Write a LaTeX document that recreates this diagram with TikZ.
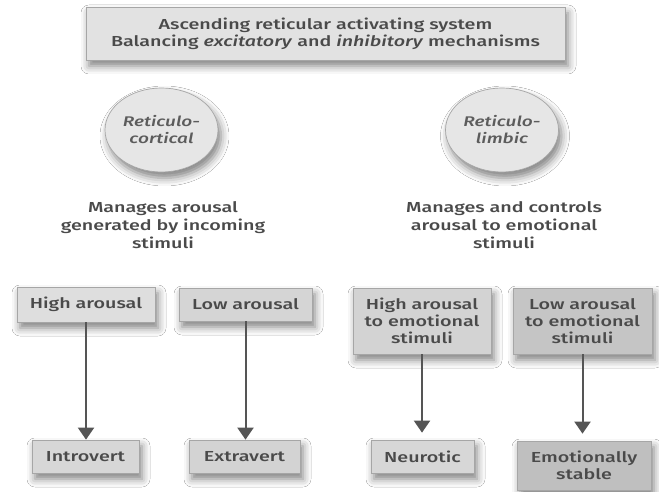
\documentclass[tikz,border=0pt]{standalone}
\usepackage{fontspec}
\newfontfamily\figfont{Fira Sans}[UprightFont={* Medium}, ItalicFont={* Medium Italic}, FakeStretch=1.36]
\usetikzlibrary{arrows.meta,shadows.blur,shapes.geometric}

\definecolor{txt}{HTML}{4A4A4A}
\definecolor{soft}{HTML}{5C5C5C}
\definecolor{edge}{HTML}{A6A6A6}
\definecolor{topfill}{HTML}{E2E2E2}
\definecolor{circfill}{HTML}{E6E6E6}
\definecolor{lightfill}{HTML}{DEDEDE}
\definecolor{midfill}{HTML}{D3D3D3}
\definecolor{darkfill}{HTML}{C5C5C5}
\definecolor{arrowcol}{HTML}{555555}

\begin{document}
\begin{tikzpicture}[x=1pt,y=-1pt,
  every node/.style={font=\figfont\fontsize{14.5}{17}\selectfont, text=txt},
  shade/.style={blur shadow={shadow xshift=3pt, shadow yshift=-6pt,
      shadow blur radius=8pt, shadow opacity=50}},
  box/.style={draw=edge, line width=0.7pt, inner sep=0pt, align=center, shade},
  oval/.style={ellipse, draw=edge, line width=0.7pt, fill=circfill, inner sep=0pt,
      minimum width=113pt, minimum height=84pt, align=center, shade,
      font=\figfont\itshape\fontsize{14}{17}\selectfont, text=soft},
  note/.style={align=center, font=\figfont\fontsize{14.5}{18}\selectfont},
  arr/.style={draw=arrowcol, line width=2pt, -{Triangle[width=16pt,length=12pt]}}
]
\fill[white] (0,0) rectangle (659,492);
\useasboundingbox (0,0) rectangle (659,492);

% header
\node[box, fill=topfill, minimum width=479pt, minimum height=53pt] (ars) at (325.5,33.5)
  {Ascending reticular activating system\\Balancing \textit{excitatory} and \textit{inhibitory} mechanisms};

% the two subsystems
\node[oval] (rc) at (161.5,130) {Reticulo-\\cortical};
\node[oval] (rl) at (502,130) {Reticulo-\\limbic};

\node[note] (rcd) at (163,225) {Manages arousal\\generated by incoming\\stimuli};
\node[note] (rld) at (504,225) {Manages and controls\\arousal to emotional\\stimuli};

% arousal levels
\node[box, fill=lightfill, minimum width=138pt, minimum height=35pt] (ha) at (86,304.5) {High arousal};
\node[box, fill=lightfill!96!black, minimum width=133pt, minimum height=33pt] (la) at (245.5,304.5) {Low arousal};
\node[box, fill=midfill, minimum width=138pt, minimum height=66pt] (hae) at (422,321) {High arousal\\to emotional\\stimuli};
\node[box, fill=darkfill, minimum width=139pt, minimum height=66pt] (lae) at (582.5,321) {Low arousal\\to emotional\\stimuli};

% outcomes
\node[box, fill=lightfill!97!black, minimum width=107pt, minimum height=33pt] (intro) at (85.5,456.5) {Introvert};
\node[box, fill=lightfill!95!black, minimum width=111pt, minimum height=33pt] (extra) at (244.5,456.5) {Extravert};
\node[box, fill=lightfill!97!black, minimum width=103pt, minimum height=33pt] (neur) at (422.5,456.5) {Neurotic};
\node[box, fill=darkfill!97!black, minimum width=134pt, minimum height=49pt] (emo) at (584,465.5) {Emotionally\\stable};

% connectors
\draw[arr] (ha.south) -- (ha.south |- intro.north);
\draw[arr] (la.south) -- (la.south |- extra.north);
\draw[arr, shorten >=7pt] (hae.south) -- (hae.south |- neur.north);
\draw[arr, shorten >=7pt] (lae.south) -- (lae.south |- emo.north);
\end{tikzpicture}
\end{document}
